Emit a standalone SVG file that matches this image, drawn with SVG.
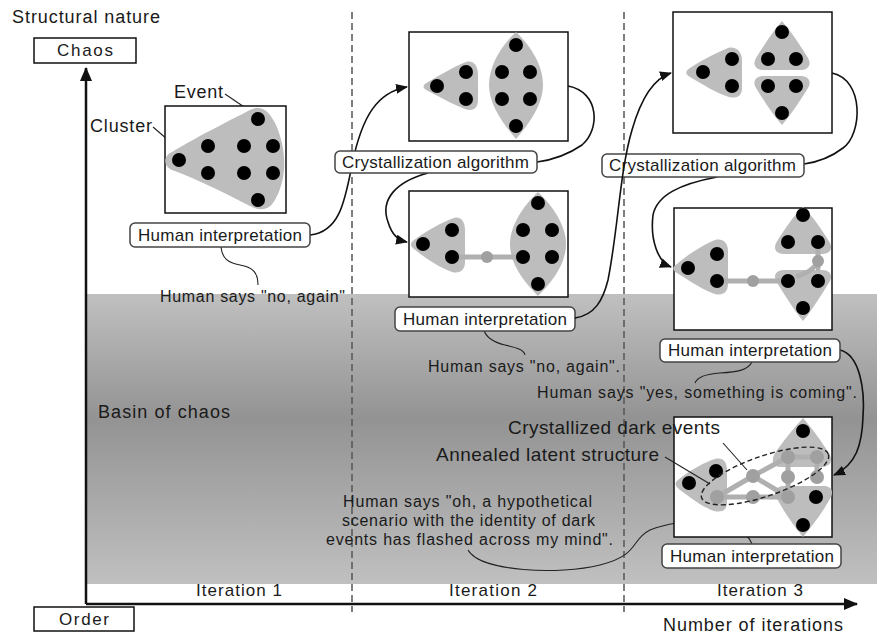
<svg xmlns="http://www.w3.org/2000/svg" width="877" height="639" viewBox="0 0 877 639">
<defs>
<linearGradient id="basin" x1="0" y1="0" x2="0" y2="1">
<stop offset="0" stop-color="#c0c0c0"/>
<stop offset="0.43" stop-color="#939393"/>
<stop offset="1" stop-color="#c0c0c0"/>
</linearGradient>
<marker id="ah" markerUnits="userSpaceOnUse" markerWidth="12" markerHeight="10" refX="11" refY="5" orient="auto">
<path d="M0,0 L12,5 L0,10 Z" fill="#111"/>
</marker>
<marker id="axh" markerUnits="userSpaceOnUse" markerWidth="14" markerHeight="12" refX="13" refY="6" orient="auto">
<path d="M0,0 L14,6 L0,12 Z" fill="#111"/>
</marker>
</defs>
<style>
text{font-family:"Liberation Sans",Arial,sans-serif;fill:#1a1a1a;}
.t16{font-size:17px;}
.t15{font-size:16px;}
.t17{font-size:18px;}
.t18{font-size:19px;}
.mid{text-anchor:middle;}
.panel{fill:#fff;stroke:#111;stroke-width:1.5;}
.lbl{fill:#fff;stroke:#444;stroke-width:1.5;}
.axbox{fill:#fff;stroke:#111;stroke-width:1.5;}
.blob{fill:#bdbdbd;}
.ev{fill:#000;}
.gev{fill:#a0a0a0;}
.bar{stroke:#b0b0b0;stroke-width:5;fill:none;stroke-linecap:round;}
.con{fill:none;stroke:#111;stroke-width:1.6;}
.thin{fill:none;stroke:#222;stroke-width:1.1;}
.dash{stroke:#555;stroke-width:1.5;stroke-dasharray:7,4;fill:none;}
</style>

<!-- background regions -->
<rect x="87" y="294" width="790" height="290" fill="url(#basin)"/>

<!-- iteration separators -->
<line class="dash" x1="352" y1="12" x2="352" y2="612"/>
<line class="dash" x1="624" y1="12" x2="624" y2="612"/>

<!-- axes -->
<g id="axes">
<line x1="86" y1="604" x2="86" y2="68" stroke="#111" stroke-width="2.5" marker-end="url(#axh)"/>
<line x1="86" y1="604" x2="857" y2="604" stroke="#111" stroke-width="2.5" marker-end="url(#axh)"/>
<text class="t17" x="12" y="23" textLength="148">Structural nature</text>
<text class="t17" x="663" y="631" textLength="180">Number of iterations</text>
</g>
<g id="chaos"><rect class="axbox" x="34" y="38" width="102" height="25"/><text class="t16" x="57" y="56" textLength="56">Chaos</text></g>
<g id="order"><rect class="axbox" x="34" y="607" width="100" height="24"/><text class="t16" x="59" y="625" textLength="50">Order</text></g>

<text class="t17" x="98" y="418" textLength="132">Basin of chaos</text>
<text class="t16" x="196" y="596" textLength="86">Iteration 1</text>
<text class="t16" x="449" y="596" textLength="88">Iteration 2</text>
<text class="t16" x="717" y="596" textLength="86">Iteration 3</text>

<!-- connectors drawn beneath boxes -->
<g id="connectors">
<path class="con" d="M310,235 C340,232 345,200 352,165 C362,115 378,92 407,87" marker-end="url(#ah)"/>
<path class="con" d="M568,86 C600,92 600,130 582,145 C566,156 552,160 537,162"/>
<path class="con" d="M428,173 C395,182 380,200 388,222 C392,235 398,240 407,242" marker-end="url(#ah)"/>
<path class="con" d="M832,73 C865,80 862,135 843,148 C830,158 818,162 804,164"/>
<path class="con" d="M717,177 C680,184 657,195 653,215 C650,240 658,262 671,267" marker-end="url(#ah)"/>
<path class="con" d="M840,350 C860,355 865,390 863,417 C862,445 856,465 834,475" marker-end="url(#ah)"/>
<path class="thin" d="M221,247 C222,258 228,263 240,265 C252,267 258,272 258,285"/>
<path class="thin" d="M484,330 C486,338 493,342 505,345 C518,348 524,350 525,355"/>
<path class="thin" d="M752,362 C748,370 738,372 720,373 C705,374 697,378 695,383"/>
<path class="thin" d="M468,550 C480,572 560,575 600,565 C640,555 630,540 650,530 C680,518 740,515 752,544"/>
<line class="thin" x1="225" y1="94" x2="253" y2="113"/>
<line class="thin" x1="153" y1="127" x2="182" y2="152"/>
</g>

<!-- Iteration 1 panel -->
<g id="panel1">
<rect class="panel" x="165" y="106" width="121" height="107"/>
<path class="blob" d="M172,152 C200,135 235,118 250,110 C262,104 270,112 276,125 C286,148 288,175 276,198 C270,210 262,212 250,206 C230,196 200,180 172,170 C163,166 163,156 172,152 Z"/>
<circle class="ev" cx="179" cy="160" r="7"/>
<circle class="ev" cx="208" cy="146" r="7"/>
<circle class="ev" cx="244" cy="146" r="7"/>
<circle class="ev" cx="273" cy="146" r="7"/>
<circle class="ev" cx="208" cy="173" r="7"/>
<circle class="ev" cx="244" cy="173" r="7"/>
<circle class="ev" cx="273" cy="173" r="7"/>
<circle class="ev" cx="258" cy="119" r="7"/>
<circle class="ev" cx="258" cy="200" r="7"/>
</g>
<text class="t17" x="174" y="98" textLength="49">Event</text>
<text class="t17" x="90" y="132" textLength="62">Cluster</text>
<g id="hi1"><rect class="lbl" x="130" y="223" width="180" height="24" rx="5"/><text class="t16" x="138" y="241" textLength="164">Human interpretation</text></g>
<text class="t15" x="160" y="302" textLength="185">Human says "no, again"</text>

<!-- Iteration 2 top panel -->
<g id="panel2a">
<rect class="panel" x="409" y="32" width="159" height="109"/>
<path class="blob" d="M428,82 C440,75 455,66 466,62 C474,60 478,66 478,75 L478,100 C478,108 473,112 465,109 C452,104 438,96 428,91 C422,88 422,85 428,82 Z"/>
<path class="blob" d="M516,32 C530,45 543,65 543,85 C543,105 528,125 516,139 C504,125 489,105 489,85 C489,65 502,45 516,32 Z"/>
<circle class="ev" cx="437" cy="86" r="7"/>
<circle class="ev" cx="466" cy="72" r="7"/>
<circle class="ev" cx="466" cy="99" r="7"/>
<circle class="ev" cx="516" cy="45" r="7"/>
<circle class="ev" cx="502" cy="72" r="7"/>
<circle class="ev" cx="530" cy="72" r="7"/>
<circle class="ev" cx="502" cy="99" r="7"/>
<circle class="ev" cx="530" cy="99" r="7"/>
<circle class="ev" cx="516" cy="126" r="7"/>
</g>
<g id="ca2"><rect class="lbl" x="335" y="151" width="202" height="22" rx="5"/><text class="t16" x="342" y="168" textLength="187">Crystallization algorithm</text></g>

<!-- Iteration 2 lower panel -->
<g id="panel2b">
<rect class="panel" x="409" y="191" width="159" height="106"/>
<path class="blob" d="M414,240 C425,232 442,222 454,218 C461,216 465,222 465,230 L465,262 C465,270 460,274 452,272 C440,268 425,258 414,249 C410,246 410,243 414,240 Z"/>
<path class="blob" d="M538,192 C552,205 566,225 566,244 C566,264 552,282 538,296 C524,282 510,264 510,244 C510,225 524,205 538,192 Z"/>
<line class="bar" x1="452" y1="257" x2="523" y2="257"/>
<circle class="gev" cx="487" cy="257" r="6"/>
<circle class="ev" cx="423" cy="244" r="7"/>
<circle class="ev" cx="452" cy="230" r="7"/>
<circle class="ev" cx="452" cy="257" r="7"/>
<circle class="ev" cx="538" cy="203" r="7"/>
<circle class="ev" cx="523" cy="230" r="7"/>
<circle class="ev" cx="552" cy="230" r="7"/>
<circle class="ev" cx="523" cy="257" r="7"/>
<circle class="ev" cx="552" cy="257" r="7"/>
<circle class="ev" cx="538" cy="284" r="7"/>
</g>
<g id="hi2"><rect class="lbl" x="395" y="307" width="180" height="24" rx="5"/><text class="t16" x="403" y="325" textLength="164">Human interpretation</text></g>
<text class="t15" x="428" y="372" textLength="192">Human says "no, again".</text>

<!-- Iteration 3 top panel -->
<g id="panel3a">
<rect class="panel" x="673" y="12" width="159" height="121"/>
<path class="blob" d="M690,68 C702,60 718,52 728,48 C736,46 742,52 742,60 L742,88 C742,96 737,99 729,97 C716,93 702,84 690,77 C685,74 685,71 690,68 Z"/>
<path class="blob" d="M782,21 C790,30 800,45 808,58 C812,65 808,70 800,70 L764,70 C756,70 752,65 756,58 C764,45 774,30 782,21 Z"/>
<path class="blob" d="M764,76 L800,76 C808,76 812,81 808,88 C800,101 790,116 782,125 C774,116 764,101 756,88 C752,81 756,76 764,76 Z"/>
<circle class="ev" cx="703" cy="72" r="7"/>
<circle class="ev" cx="732" cy="59" r="7"/>
<circle class="ev" cx="732" cy="86" r="7"/>
<circle class="ev" cx="782" cy="32" r="7"/>
<circle class="ev" cx="768" cy="59" r="7"/>
<circle class="ev" cx="796" cy="59" r="7"/>
<circle class="ev" cx="768" cy="86" r="7"/>
<circle class="ev" cx="796" cy="86" r="7"/>
<circle class="ev" cx="782" cy="113" r="7"/>
</g>
<g id="ca3"><rect class="lbl" x="602" y="154" width="202" height="23" rx="5"/><text class="t16" x="609" y="171" textLength="187">Crystallization algorithm</text></g>

<!-- connector drawn over ca3 box -->
<path class="con" d="M575,318 C595,315 603,300 608,280 C618,230 620,170 632,130 C642,95 655,78 671,73" marker-end="url(#ah)"/>

<!-- Iteration 3 middle panel -->
<g id="panel3b">
<rect class="panel" x="674" y="208" width="158" height="122"/>
<path class="blob" d="M677,264 C688,254 705,244 715,240 C723,238 728,243 728,251 L728,284 C728,292 723,296 715,294 C705,291 688,280 677,273 C672,270 672,267 677,264 Z"/>
<path class="blob" d="M803,207 C812,215 822,230 830,243 C833,250 829,254 822,254 L784,254 C777,254 773,250 776,243 C784,230 794,215 803,207 Z"/>
<path class="blob" d="M784,270 L822,270 C829,270 833,274 830,281 C822,294 812,310 803,321 C794,310 784,294 776,281 C773,274 777,270 784,270 Z"/>
<line class="bar" x1="717" y1="281" x2="788" y2="281"/>
<line class="bar" x1="818" y1="250" x2="818" y2="268"/>
<path class="bar" d="M818,262 Q812,272 798,276"/>
<circle class="gev" cx="753" cy="281" r="6"/>
<circle class="gev" cx="818" cy="261" r="6"/>
<circle class="ev" cx="688" cy="268" r="7"/>
<circle class="ev" cx="717" cy="254" r="7"/>
<circle class="ev" cx="717" cy="281" r="7"/>
<circle class="ev" cx="803" cy="215" r="7"/>
<circle class="ev" cx="788" cy="242" r="7"/>
<circle class="ev" cx="818" cy="242" r="7"/>
<circle class="ev" cx="788" cy="281" r="7"/>
<circle class="ev" cx="818" cy="281" r="7"/>
<circle class="ev" cx="803" cy="308" r="7"/>
</g>
<g id="hi3"><rect class="lbl" x="660" y="339" width="180" height="23" rx="5"/><text class="t16" x="668" y="356" textLength="164">Human interpretation</text></g>
<text class="t15" x="537" y="398" textLength="320">Human says "yes, something is coming".</text>

<!-- Iteration 3 bottom panel -->
<g id="panel3c">
<rect class="panel" x="674" y="417" width="158" height="120"/>
<path class="blob" d="M678,480 C690,470 705,462 715,459 C723,457 727,462 727,470 L727,502 C727,510 722,513 714,511 C702,507 690,497 680,490 C675,486 674,483 678,480 Z"/>
<path class="blob" d="M803,418 C812,428 822,442 830,455 C833,462 829,467 822,467 L780,467 C774,467 771,462 774,455 C782,442 794,428 803,418 Z"/>
<path class="blob" d="M784,486 L824,486 C830,486 834,490 831,497 C823,512 812,526 803,537 C794,526 784,512 776,497 C773,490 778,486 784,486 Z"/>
<g class="bar">
<line x1="717" y1="497" x2="753" y2="476"/>
<line x1="717" y1="497" x2="788" y2="497"/>
<line x1="753" y1="476" x2="788" y2="457"/>
<line x1="753" y1="476" x2="788" y2="497"/>
<line x1="788" y1="457" x2="817" y2="457"/>
<line x1="788" y1="457" x2="788" y2="497"/>
<line x1="817" y1="457" x2="817" y2="477"/>
</g>
<circle class="ev" cx="689" cy="483" r="7"/>
<circle class="ev" cx="716" cy="471" r="7"/>
<circle class="ev" cx="803" cy="431" r="7"/>
<circle class="ev" cx="816" cy="497" r="7"/>
<circle class="ev" cx="803" cy="525" r="7"/>
<circle class="gev" cx="717" cy="497" r="7"/>
<circle class="gev" cx="753" cy="476" r="7"/>
<circle class="gev" cx="753" cy="497" r="7"/>
<circle class="gev" cx="788" cy="457" r="7"/>
<circle class="gev" cx="817" cy="457" r="7"/>
<circle class="gev" cx="788" cy="477" r="7"/>
<circle class="gev" cx="817" cy="477" r="7"/>
<circle class="gev" cx="788" cy="497" r="7"/>
<ellipse cx="765" cy="476" rx="67" ry="20" transform="rotate(-19 765 476)" fill="none" stroke="#222" stroke-width="1.4" stroke-dasharray="5,3"/>
</g>
<line class="thin" x1="665" y1="457" x2="710" y2="484"/>
<line class="thin" x1="723" y1="443" x2="747" y2="470"/>
<text class="t18" x="508" y="434" textLength="212">Crystallized dark events</text>
<text class="t18" x="436" y="461" textLength="223">Annealed latent structure</text>
<text class="t15" x="343" y="507" textLength="249">Human says "oh, a hypothetical</text>
<text class="t15" x="342" y="526" textLength="253">scenario with the identity of dark</text>
<text class="t15" x="326" y="545" textLength="287">events has flashed across my mind".</text>
<g id="hi4"><rect class="lbl" x="662" y="544" width="179" height="24" rx="5"/><text class="t16" x="670" y="562" textLength="164">Human interpretation</text></g>
</svg>
